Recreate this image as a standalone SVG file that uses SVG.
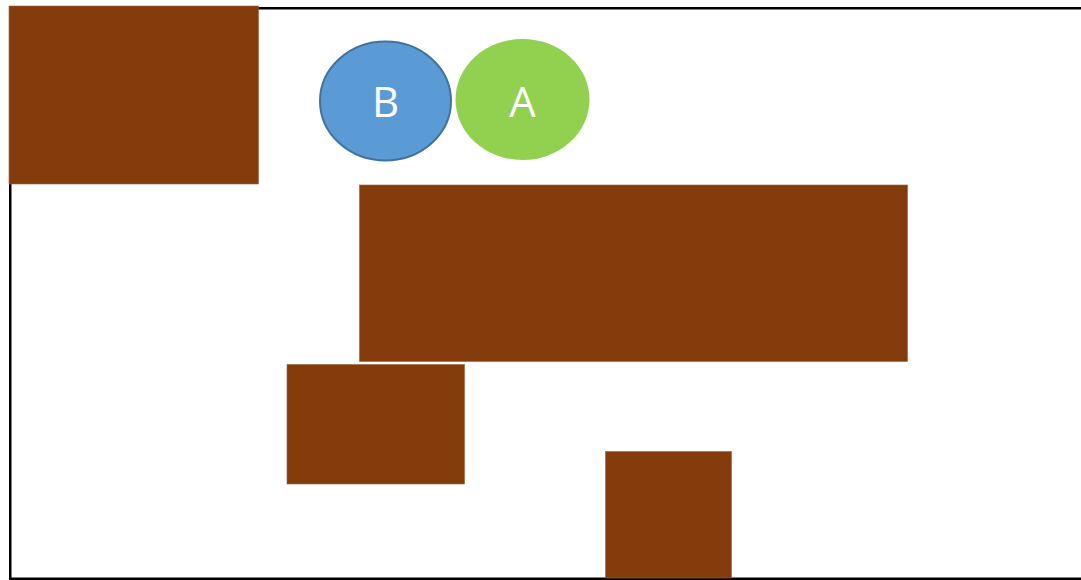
<svg xmlns="http://www.w3.org/2000/svg" width="1081" height="580" viewBox="0 0 1081 580">
  <style>
    .block { fill: #843C0C; stroke: #A0623A; stroke-width: 0.6; }
    .lbl { font-family: "Open Sans", "Liberation Sans", sans-serif; font-size: 42px; fill: #FFFFFF; text-anchor: middle; }
  </style>
  <rect width="1081" height="580" fill="#FFFFFF"/>
  <g id="frame">
    <rect x="10.25" y="8.25" width="1090" height="570.5" fill="none" stroke="#000000" stroke-width="2.5"/>
  </g>
  <g id="block-top-left"><rect class="block" x="9" y="6" width="249.5" height="178"/></g>
  <g id="block-center"><rect class="block" x="359.5" y="185" width="548" height="176.5"/></g>
  <g id="block-lower-left"><rect class="block" x="287" y="364.5" width="177.5" height="119.5"/></g>
  <g id="block-bottom"><rect class="block" x="605.5" y="451.5" width="126" height="126.5"/></g>
  <g id="node-B">
    <ellipse cx="385.5" cy="101" rx="65.5" ry="59.5" fill="#5B9BD5" stroke="#41719C" stroke-width="2"/>
    <text class="lbl" x="385.5" y="117">B</text>
  </g>
  <g id="node-A">
    <ellipse cx="522.5" cy="99.5" rx="67" ry="60.5" fill="#92D050"/>
    <text class="lbl" x="522.5" y="117">A</text>
  </g>
  <g id="connectors"></g>
</svg>
